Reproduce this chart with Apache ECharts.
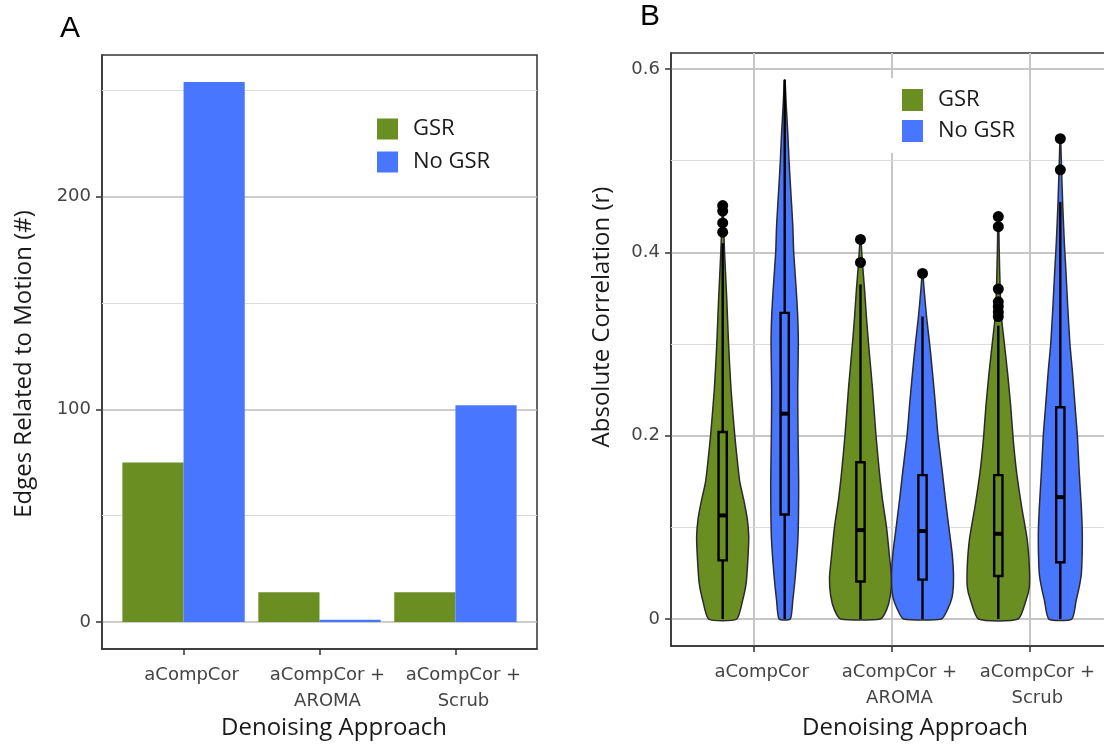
<!DOCTYPE html>
<html>
<head>
<meta charset="utf-8">
<script src="https://cdn.jsdelivr.net/npm/echarts@6/dist/echarts.min.js"></script>
<style>
html, body { margin: 0; padding: 0; background: #fff; }
#main { width: 1104px; height: 744px; }
</style>
</head>
<body>
<div id="main"></div>
<script>
// categories / groups
var categories = ['aCompCor', 'aCompCor +\nAROMA', 'aCompCor +\nScrub'];
var groupNames = ['GSR', 'No GSR'];

// panel A : number of edges related to motion
var edgesGSR = [75, 14, 14];
var edgesNoGSR = [254, 1, 102];
var edgesTicks = [0, 100, 200];
var edgesMinor = [50, 150, 250];

// panel B : absolute correlation, tick labels
var corrTicks = [0, 0.2, 0.4, 0.6];
var corrMinor = [0.1, 0.3, 0.5];

// violin outlines (r levels and relative density width), one per category
var gsrViolinR = [
	[0, 0.02, 0.04, 0.07, 0.09, 0.11, 0.13, 0.15, 0.18, 0.2, 0.25, 0.3, 0.35, 0.4, 0.43, 0.453],
	[0, 0.01, 0.025, 0.045, 0.07, 0.1, 0.13, 0.16, 0.2, 0.25, 0.3, 0.33, 0.36, 0.39, 0.415],
	[0, 0.021, 0.035, 0.058, 0.087, 0.123, 0.16, 0.196, 0.232, 0.268, 0.305, 0.33, 0.36, 0.4, 0.44]
];
var gsrViolinW = [
	[0.45, 0.64, 0.76, 0.82, 0.84, 0.79, 0.68, 0.55, 0.45, 0.39, 0.27, 0.19, 0.13, 0.06, 0.03, 0.01],
	[0.64, 0.84, 0.96, 1.0, 0.93, 0.84, 0.71, 0.61, 0.5, 0.39, 0.26, 0.19, 0.13, 0.06, 0.01],
	[0.64, 0.9, 1.0, 1.0, 0.93, 0.75, 0.59, 0.48, 0.4, 0.3, 0.18, 0.1, 0.06, 0.03, 0.01]
];
var noGsrViolinR = [
	[0, 0.02, 0.05, 0.09, 0.15, 0.2, 0.25, 0.3, 0.33, 0.36, 0.4, 0.43, 0.47, 0.5, 0.53, 0.56, 0.588],
	[0, 0.01, 0.025, 0.045, 0.07, 0.1, 0.13, 0.16, 0.2, 0.24, 0.28, 0.3, 0.33, 0.36, 0.377],
	[0, 0.02, 0.035, 0.05, 0.09, 0.12, 0.16, 0.2, 0.23, 0.27, 0.3, 0.34, 0.38, 0.41, 0.45, 0.49, 0.524]
];
var noGsrViolinW = [
	[0.18, 0.26, 0.35, 0.43, 0.45, 0.43, 0.42, 0.44, 0.42, 0.37, 0.29, 0.26, 0.19, 0.14, 0.1, 0.05, 0.01],
	[0.61, 0.8, 0.96, 1.0, 0.96, 0.85, 0.74, 0.64, 0.5, 0.4, 0.29, 0.23, 0.13, 0.05, 0.01],
	[0.37, 0.51, 0.61, 0.68, 0.71, 0.68, 0.61, 0.55, 0.48, 0.39, 0.31, 0.24, 0.18, 0.13, 0.08, 0.04, 0.01]
];

// boxplot stats : [lower whisker, q1, median, q3, upper whisker]
var gsrBox = [
	[0, 0.064, 0.113, 0.204, 0.41],
	[0, 0.041, 0.097, 0.171, 0.365],
	[0, 0.047, 0.093, 0.157, 0.32]
];
var noGsrBox = [
	[0, 0.114, 0.224, 0.334, 0.588],
	[0, 0.043, 0.096, 0.157, 0.33],
	[0, 0.062, 0.133, 0.231, 0.455]
];
var gsrOutliers = [
	[0.422, 0.432, 0.445, 0.451],
	[0.389, 0.414],
	[0.33, 0.335, 0.341, 0.346, 0.36, 0.428, 0.439]
];
var noGsrOutliers = [
	[],
	[0.377],
	[0.49, 0.524]
];

var GREEN = '#6B8E23';
var BLUE = '#4876FF';
var DODGE = 0.225;   // half of dodge width 0.9
var BOX_HALF = 0.03;
var tickFont = 'DejaVu Sans';
var titleFont = '"Open Sans", "Noto Sans", sans-serif';

// ggplot-like 5% expansion of the continuous range
function expandRange(lo, hi) {
	var p = (hi - lo) * 0.05;
	return [lo - p, hi + p];
}
var edgesRange = expandRange(0, Math.max.apply(null, edgesNoGSR.concat(edgesGSR)));
var corrTop = 0;
gsrViolinR.concat(noGsrViolinR).forEach(function (a) { corrTop = Math.max(corrTop, a[a.length - 1]); });
var corrRange = expandRange(0, corrTop);

var myChart = echarts.init(document.getElementById('main'), null, { renderer: 'canvas' });

/* ---- render helpers ---- */
function barItem(offset) {
	return function (params, api) {
		var x = api.value(0) + offset;
		var p0 = api.coord([x - DODGE, api.value(1)]);
		var p1 = api.coord([x + DODGE, 0]);
		return {
			type: 'rect',
			shape: { x: p0[0], y: p0[1], width: p1[0] - p0[0], height: p1[1] - p0[1] },
			style: { fill: api.visual('color') }
		};
	};
}

function violinItem(rArr, wArr, offset) {
	return function (params, api) {
		var i = params.dataIndex;
		var cx = api.value(0) + offset;
		var r = rArr[i], w = wArr[i];
		var pts = [], k;
		for (k = 0; k < r.length; k++) pts.push(api.coord([cx - w[k] * DODGE, r[k]]));
		for (k = r.length - 1; k >= 0; k--) pts.push(api.coord([cx + w[k] * DODGE, r[k]]));
		return {
			type: 'polygon',
			shape: { points: pts, smooth: 0.2 },
			style: { fill: api.visual('color'), stroke: '#2b2b2b', lineWidth: 1.5 }
		};
	};
}

function boxItem(boxes, offset) {
	return function (params, api) {
		var b = boxes[params.dataIndex];
		var cx = api.value(0) + offset;
		var lw = api.coord([cx, b[0]]), q1 = api.coord([cx, b[1]]);
		var q3 = api.coord([cx, b[3]]), uw = api.coord([cx, b[4]]);
		var tl = api.coord([cx - BOX_HALF, b[3]]), br = api.coord([cx + BOX_HALF, b[1]]);
		var ml = api.coord([cx - BOX_HALF, b[2]]), mr = api.coord([cx + BOX_HALF, b[2]]);
		var st = { stroke: '#000', lineWidth: 2.4 };
		return {
			type: 'group',
			children: [
				{ type: 'line', shape: { x1: lw[0], y1: lw[1], x2: q1[0], y2: q1[1] }, style: st },
				{ type: 'line', shape: { x1: q3[0], y1: q3[1], x2: uw[0], y2: uw[1] }, style: st },
				{ type: 'rect', shape: { x: tl[0], y: tl[1], width: br[0] - tl[0], height: br[1] - tl[1] },
					style: { fill: 'none', stroke: '#000', lineWidth: 2.4 } },
				{ type: 'line', shape: { x1: ml[0], y1: ml[1], x2: mr[0], y2: mr[1] },
					style: { stroke: '#000', lineWidth: 4 } }
			]
		};
	};
}

function outlierData(list, offset) {
	var out = [];
	list.forEach(function (arr, i) {
		arr.forEach(function (v) { out.push([i + 1 + offset, v]); });
	});
	return out;
}

function catData(values) {
	return values.map(function (v, i) { return [i + 1, v]; });
}

function minorLines(gridIdx, values, color) {
	return {
		type: 'line', xAxisIndex: gridIdx, yAxisIndex: gridIdx, data: [], z: 1, silent: true,
		markLine: {
			silent: true, symbol: ['none', 'none'], animation: false, z: 1,
			label: { show: false },
			emphasis: { disabled: true },
			lineStyle: { type: 'solid', color: color, width: 1 },
			data: values.map(function (v) { return { yAxis: v }; })
		}
	};
}

function xAxisFor(gridIdx, split) {
	return {
		gridIndex: gridIdx, type: 'value', min: 0.4, max: 3.6,
		axisLine: { show: true, onZero: false, lineStyle: { color: '#333', width: 1.5 } },
		axisTick: { show: true, customValues: [1, 2, 3], length: 6, lineStyle: { color: '#333', width: 1.5 } },
		axisLabel: {
			customValues: [1, 2, 3], margin: 13, color: '#444', fontFamily: tickFont, fontSize: 18,
			lineHeight: 26, padding: [0, 0, 0, 16],
			formatter: function (v) { return categories[Math.round(v) - 1]; }
		},
		splitLine: { show: split, lineStyle: { color: '#c6c6c6', width: 2 } }
	};
}

function yAxisFor(gridIdx, range, ticks, gridColor, gridWidth) {
	return {
		gridIndex: gridIdx, type: 'value', min: range[0], max: range[1],
		axisLine: { show: true, onZero: false, lineStyle: { color: '#333', width: 1.5 } },
		axisTick: { show: true, customValues: ticks, length: 6, lineStyle: { color: '#333', width: 1.5 } },
		axisLabel: { customValues: ticks, margin: 11, color: '#444', fontFamily: tickFont, fontSize: 18 },
		splitLine: { show: true, lineStyle: { color: gridColor, width: gridWidth } }
	};
}

var option = {
	backgroundColor: '#fff',
	animation: false,
	grid: [
		{ left: 102, top: 55, width: 435, height: 594, show: true, borderColor: '#333', borderWidth: 1.5,
			backgroundColor: '#fff', outerBoundsMode: 'none', containLabel: false },
		{ left: 671, top: 53, width: 441, height: 593, show: true, borderColor: '#333', borderWidth: 1.5,
			backgroundColor: '#fff', outerBoundsMode: 'none', containLabel: false }
	],
	xAxis: [xAxisFor(0, false), xAxisFor(1, true)],
	yAxis: [
		yAxisFor(0, edgesRange, edgesTicks, '#bdbdbd', 1.5),
		yAxisFor(1, corrRange, corrTicks, '#c6c6c6', 2)
	],
	legend: [
		{
			left: 377, top: 118, orient: 'vertical', icon: 'rect', itemWidth: 21, itemHeight: 21, itemGap: 11,
			padding: 0, data: groupNames, selectedMode: false,
			textStyle: { fontFamily: titleFont, fontSize: 22, color: '#1a1a1a', padding: [0, 0, 0, 10] }
		},
		{
			left: 885, top: 78, orient: 'vertical', icon: 'rect', itemWidth: 21, itemHeight: 22, itemGap: 9,
			padding: [11, 14, 11, 17], backgroundColor: '#fff', data: groupNames, selectedMode: false,
			textStyle: { fontFamily: titleFont, fontSize: 22, color: '#1a1a1a', padding: [0, 0, 0, 10] }
		}
	],
	graphic: [
		{ type: 'text', left: 60, top: 14, style: { text: 'A', font: '30px "Liberation Sans", Arial', fill: '#000' } },
		{ type: 'text', left: 640, top: 2, style: { text: 'B', font: '30px "Liberation Sans", Arial', fill: '#000' } },
		{ type: 'text', x: 334, y: 728, style: { text: 'Denoising Approach', font: '24px ' + titleFont,
			fill: '#1a1a1a', align: 'center', verticalAlign: 'middle' } },
		{ type: 'text', x: 915, y: 728, style: { text: 'Denoising Approach', font: '24px ' + titleFont,
			fill: '#1a1a1a', align: 'center', verticalAlign: 'middle' } },
		{ type: 'text', x: 24, y: 364, rotation: Math.PI / 2, style: { text: 'Edges Related to Motion (#)',
			font: '24px ' + titleFont, fill: '#1a1a1a', align: 'center', verticalAlign: 'middle' } },
		{ type: 'text', x: 602, y: 317, rotation: Math.PI / 2, style: { text: 'Absolute Correlation (r)',
			font: '24px ' + titleFont, fill: '#1a1a1a', align: 'center', verticalAlign: 'middle' } }
	],
	series: [
		minorLines(0, edgesMinor, '#dcdcdc'),
		minorLines(1, corrMinor, '#dcdcdc'),
		{
			name: 'GSR', type: 'custom', xAxisIndex: 0, yAxisIndex: 0, z: 3, itemStyle: { color: GREEN },
			renderItem: barItem(-DODGE), data: catData(edgesGSR), encode: { x: 0, y: 1 }
		},
		{
			name: 'No GSR', type: 'custom', xAxisIndex: 0, yAxisIndex: 0, z: 3, itemStyle: { color: BLUE },
			renderItem: barItem(DODGE), data: catData(edgesNoGSR), encode: { x: 0, y: 1 }
		},
		{
			name: 'GSR', type: 'custom', xAxisIndex: 1, yAxisIndex: 1, z: 3, itemStyle: { color: GREEN },
			renderItem: violinItem(gsrViolinR, gsrViolinW, -DODGE), encode: { x: 0, y: 1 },
			data: catData(gsrViolinR.map(function (a) { return a[a.length - 1]; }))
		},
		{
			name: 'No GSR', type: 'custom', xAxisIndex: 1, yAxisIndex: 1, z: 3, itemStyle: { color: BLUE },
			renderItem: violinItem(noGsrViolinR, noGsrViolinW, DODGE), encode: { x: 0, y: 1 },
			data: catData(noGsrViolinR.map(function (a) { return a[a.length - 1]; }))
		},
		{
			name: 'box GSR', type: 'custom', xAxisIndex: 1, yAxisIndex: 1, z: 4,
			renderItem: boxItem(gsrBox, -DODGE), encode: { x: 0, y: 1 },
			data: catData(gsrBox.map(function (b) { return b[4]; }))
		},
		{
			name: 'box No GSR', type: 'custom', xAxisIndex: 1, yAxisIndex: 1, z: 4,
			renderItem: boxItem(noGsrBox, DODGE), encode: { x: 0, y: 1 },
			data: catData(noGsrBox.map(function (b) { return b[4]; }))
		},
		{
			name: 'out GSR', type: 'scatter', xAxisIndex: 1, yAxisIndex: 1, z: 5, symbolSize: 11,
			itemStyle: { color: '#000', opacity: 1 }, data: outlierData(gsrOutliers, -DODGE)
		},
		{
			name: 'out No GSR', type: 'scatter', xAxisIndex: 1, yAxisIndex: 1, z: 5, symbolSize: 11,
			itemStyle: { color: '#000', opacity: 1 }, data: outlierData(noGsrOutliers, DODGE)
		}
	]
};

myChart.setOption(option);
</script>
</body>
</html>
